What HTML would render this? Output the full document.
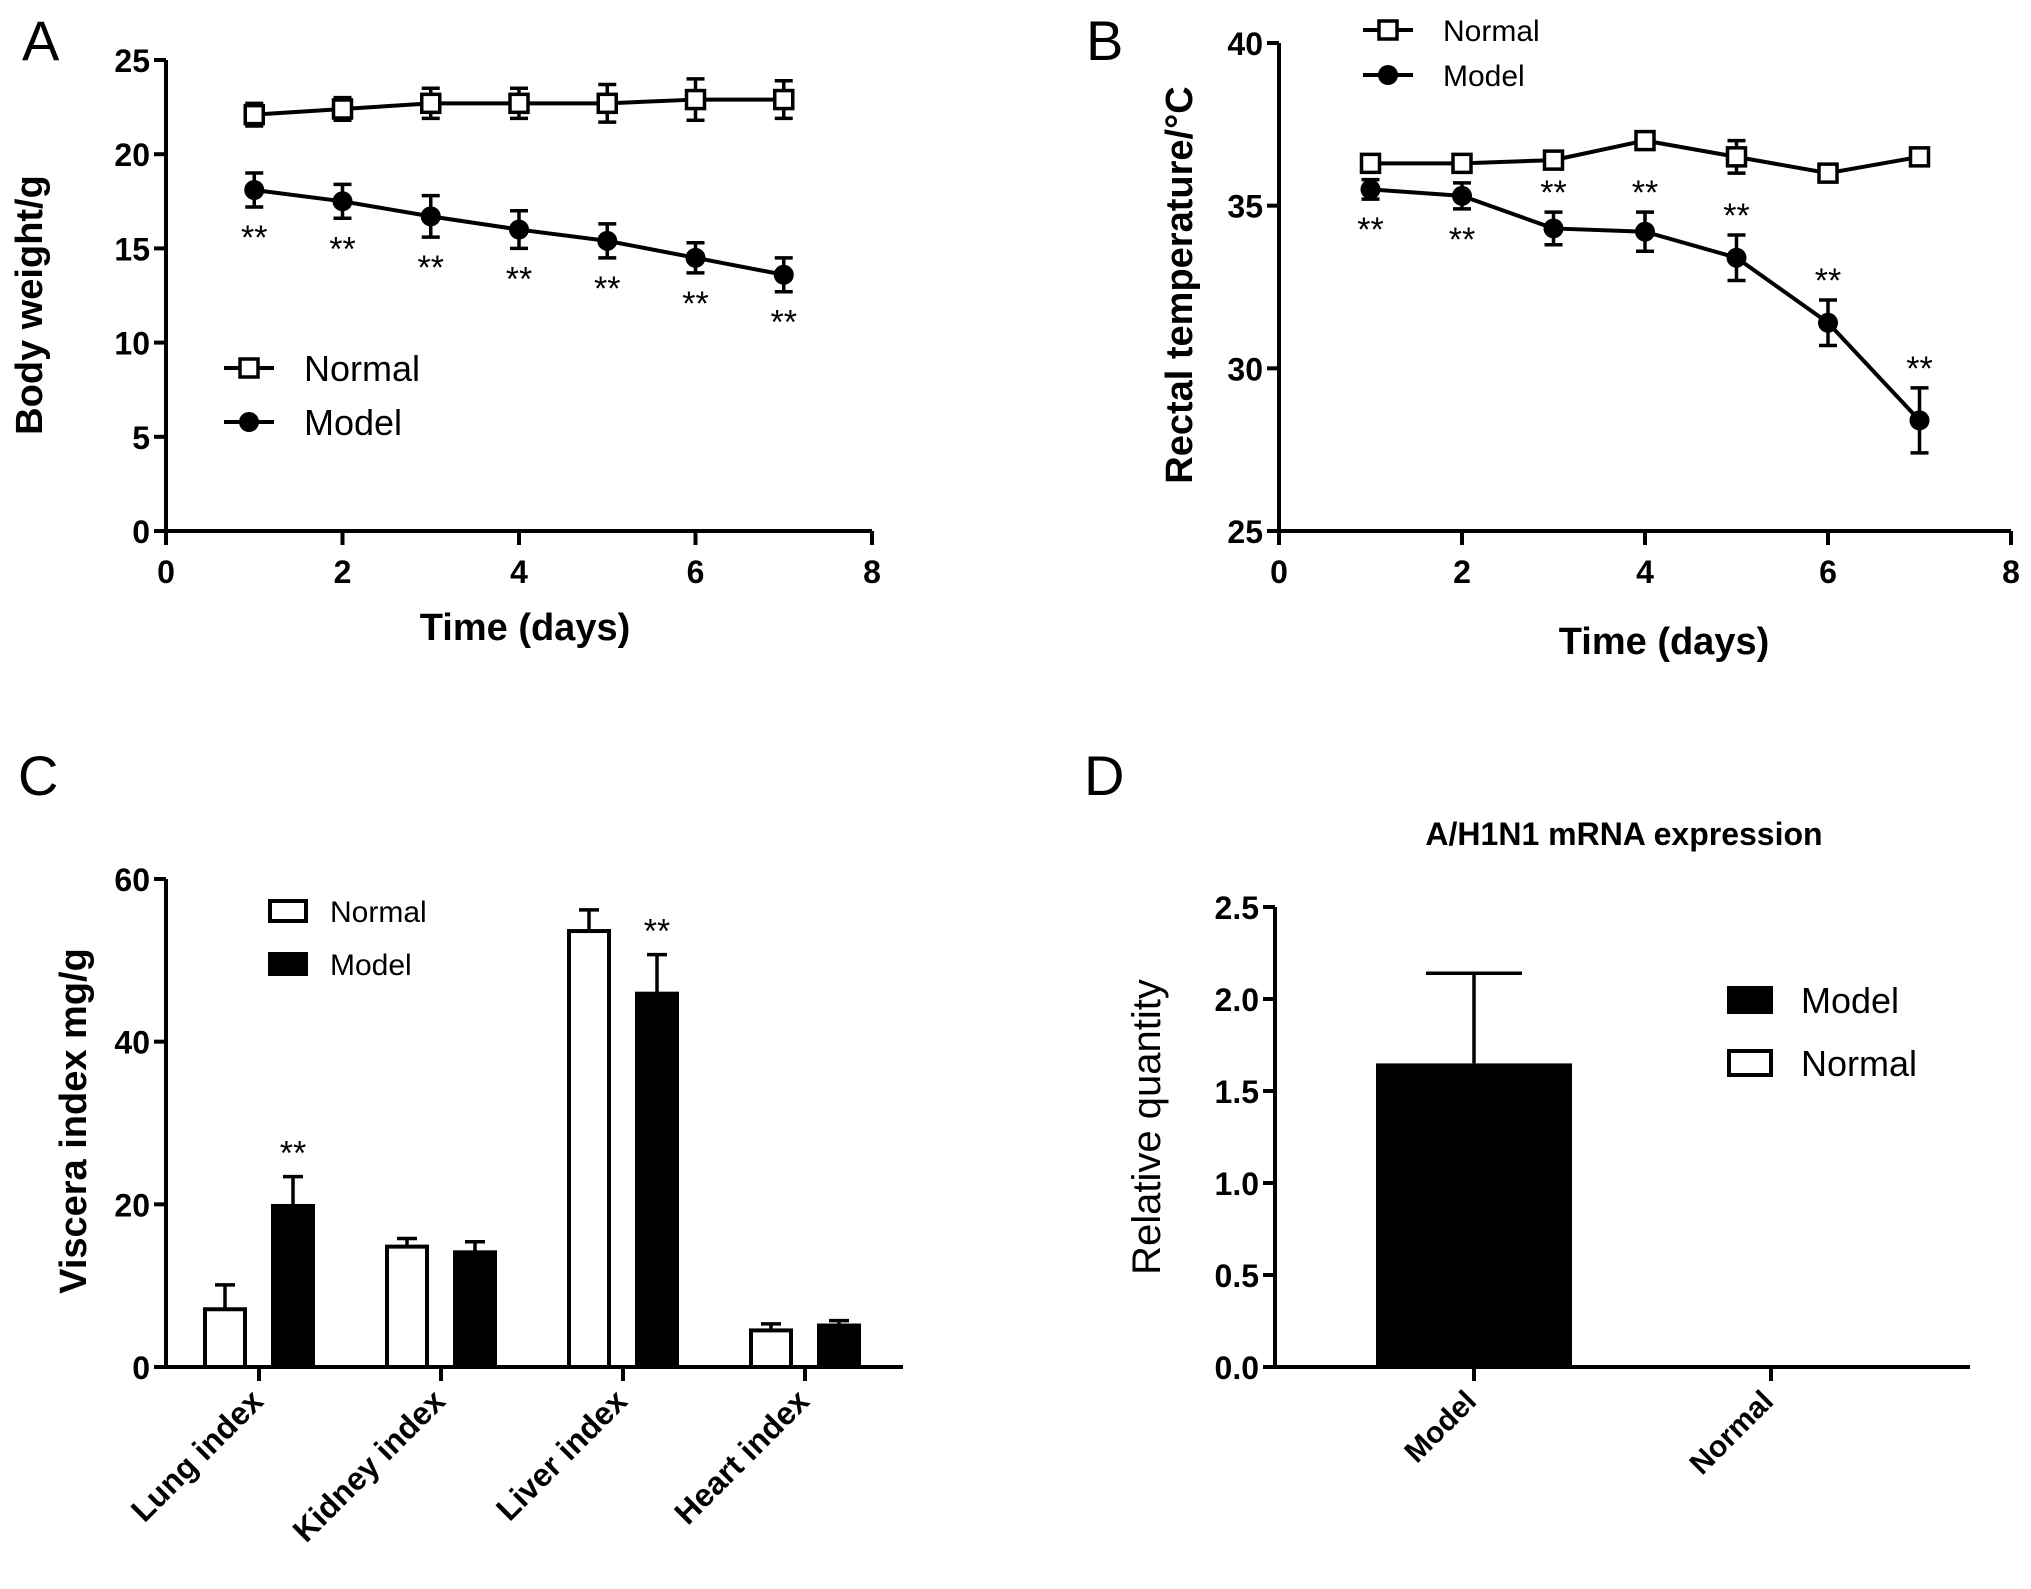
<!DOCTYPE html>
<html><head><meta charset="utf-8">
<style>
html,body{margin:0;padding:0;background:#fff;}
svg{display:block;font-family:"Liberation Sans",Arial,sans-serif;}
.tick{font-size:32px;font-weight:bold;}
.title{font-size:38px;font-weight:bold;}
.lab{font-size:56px;}
</style></head>
<body>
<svg id="fig" width="2031" height="1589" viewBox="0 0 2031 1589">
<text class="lab" x="22" y="60">A</text>
<text class="lab" x="1086" y="60">B</text>
<text class="lab" x="18" y="795">C</text>
<text class="lab" x="1084" y="795">D</text>
</svg>
<script>
// Panel A data
const daysA = [1,2,3,4,5,6,7];
const normalA = [22.1,22.4,22.7,22.7,22.7,22.9,22.9];
const normalAErr = [0.6,0.6,0.8,0.8,1.0,1.1,1.0];
const modelA = [18.1,17.5,16.7,16.0,15.4,14.5,13.6];
const modelAErr = [0.9,0.9,1.1,1.0,0.9,0.8,0.9];
const ticksAX = [0,2,4,6,8];
const ticksAY = [0,5,10,15,20,25];
// Panel B data
const daysB = [1,2,3,4,5,6,7];
const normalB = [36.3,36.3,36.4,37.0,36.5,36.0,36.5];
const normalBErr = [0.1,0.1,0.1,0.1,0.5,0.1,0.1];
const modelB = [35.5,35.3,34.3,34.2,33.4,31.4,28.4];
const modelBErr = [0.3,0.4,0.5,0.6,0.7,0.7,1.0];
const starsBAbove = [false,false,true,true,true,true,true];
const ticksBX = [0,2,4,6,8];
const ticksBY = [25,30,35,40];
// Panel C data
const catsC = ["Lung index","Kidney index","Liver index","Heart index"];
const normalC = [7.1,14.8,53.6,4.5];
const normalCErr = [3.0,1.0,2.6,0.8];
const modelC = [19.8,14.1,45.9,5.1];
const modelCErr = [3.6,1.3,4.8,0.6];
const starsC = [true,false,true,false];
const ticksCY = [0,20,40,60];
// Panel D data
const catsD = ["Model","Normal"];
const valsD = [1.65,0];
const errD = [0.49,0];
const ticksDY = ["0.0","0.5","1.0","1.5","2.0","2.5"];

const svg = document.getElementById('fig');
const NS = 'http://www.w3.org/2000/svg';
function mk(tag, attrs, txt){
  const e = document.createElementNS(NS, tag);
  for (const k in attrs) e.setAttribute(k, attrs[k]);
  if (txt !== undefined) e.textContent = txt;
  svg.appendChild(e);
  return e;
}
function line(x1,y1,x2,y2,w){return mk('line',{x1,y1,x2,y2,stroke:'#000','stroke-width':w||4});}

function axes(x0,x1,y0,y1,xs,ys,xTicks,yTicks,pre){
  let e = line(x0,y0,x1,y0,4);
  
  
  e = line(x0,y0+2,x0,y1,4);
  
  
  yTicks.forEach(v=>{
    const y = ys(parseFloat(v));
    line(x0-12,y,x0,y,4);
    const t = mk('text',{x:x0-16,y:y+12,'text-anchor':'end',class:'tick'},String(v));
    
    
  });
  if (xTicks) xTicks.forEach(v=>{
    const x = xs(v);
    line(x,y0,x,y0+14,4);
    const t = mk('text',{x:x,y:y0+52,'text-anchor':'middle',class:'tick'},String(v));
    
    
  });
}
function errBar(x,yc,yt,cap){line(x,yc,x,yt,3.5);line(x-cap,yt,x+cap,yt,3.5);}
function marker(type,x,y,pre){
  let e;
  if (type==='sq') e = mk('rect',{x:x-9,y:y-9,width:18,height:18,fill:'#fff',stroke:'#000','stroke-width':3.5});
  else e = mk('circle',{cx:x,cy:y,r:10,fill:'#000'});
  
  
}
function series(days,vals,errs,xs,ys,type,pre){
  const pts = days.map((d,i)=>xs(d)+','+ys(vals[i])).join(' ');
  const pl = mk('polyline',{points:pts,fill:'none',stroke:'#000','stroke-width':4});
  
  
  days.forEach((d,i)=>{
    const x=xs(d);
    errBar(x,ys(vals[i]),ys(vals[i]+errs[i]),9);
    errBar(x,ys(vals[i]),ys(vals[i]-errs[i]),9);
    marker(type,x,ys(vals[i]),pre);
  });
}
function stars(x,y,pre){
  const t = mk('text',{x:x,y:y,'text-anchor':'middle','font-size':'34px'},'**');
  
  
}
function legLine(x,y,type,label,fs,pre){
  line(x,y,x+50,y,4);
  marker(type,x+25,y,pre);
  const t = mk('text',{x:x+80,y:y+fs*0.36,'font-size':fs+'px'},label);
  
  
}
function title(x,y,txt,rot,name,size,weight){
  const a = {x:x,y:y,'text-anchor':'middle',class:'title'};
  if (rot) a.transform='rotate(-90 '+x+' '+y+')';
  let st='';
  if (size) st+='font-size:'+size+'px;';
  if (weight) st+='font-weight:'+weight+';';
  if (st) a.style=st;
  const t = mk('text',a,txt);
  
  
}

// ---------- Panel A ----------
{
  const x0=166,x1=872,y0=531,yTop=60;
  const xs=d=>x0+(x1-x0)*d/8, ys=v=>y0-(y0-yTop)*v/25;
  axes(x0,x1,y0,yTop,xs,ys,ticksAX,ticksAY,'panel-a');
  series(daysA,normalA,normalAErr,xs,ys,'sq','panel-a-normal');
  series(daysA,modelA,modelAErr,xs,ys,'ci','panel-a-model');
  daysA.forEach((d,i)=>stars(xs(d),ys(modelA[i]-modelAErr[i])+42,'panel-a'));
  legLine(224,368,'sq','Normal',36,'panel-a-normal');
  legLine(224,422,'ci','Model',36,'panel-a-model');
  title(525,640,'Time (days)',false,'panel-a-x-axis-title');
  title(42,305,'Body weight/g',true,'panel-a-y-axis-title');
}
// ---------- Panel B ----------
{
  const x0=1279,x1=2011,y0=531,yTop=43;
  const xs=d=>x0+(x1-x0)*d/8, ys=v=>y0-(y0-yTop)*(v-25)/15;
  axes(x0,x1,y0,yTop,xs,ys,ticksBX,ticksBY,'panel-b');
  series(daysB,normalB,normalBErr,xs,ys,'sq','panel-b-normal');
  series(daysB,modelB,modelBErr,xs,ys,'ci','panel-b-model');
  daysB.forEach((d,i)=>{
    if (starsBAbove[i]) stars(xs(d),ys(modelB[i]+modelBErr[i])-8,'panel-b');
    else stars(xs(d),ys(modelB[i]-modelBErr[i])+42,'panel-b');
  });
  legLine(1363,30,'sq','Normal',30,'panel-b-normal');
  legLine(1363,75,'ci','Model',30,'panel-b-model');
  title(1664,654,'Time (days)',false,'panel-b-x-axis-title');
  title(1192,285,'Rectal temperature/°C',true,'panel-b-y-axis-title');
}
// ---------- Panel C ----------
{
  const x0=166,x1=903,y0=1367,yTop=879;
  const ys=v=>y0-(y0-yTop)*v/60;
  const cx=i=>259+182*i;
  axes(x0,x1,y0,yTop,null,ys,null,ticksCY,'panel-c');
  catsC.forEach((c,i)=>{
    const x=cx(i);
    line(x,y0,x,y0+14,4);
    [[normalC,normalCErr,-34,'#fff','normal'],[modelC,modelCErr,34,'#000','model']].forEach(([v,er,off,fill,nm])=>{
      const bx=x+off;
      errBar(bx,ys(v[i]),ys(v[i]+er[i]),10);
      const r = mk('rect',{x:bx-20,y:ys(v[i]),width:40,height:y0-ys(v[i]),fill:fill,stroke:'#000','stroke-width':4});
      
      
    });
    if (starsC[i]) stars(x+34,ys(modelC[i]+modelCErr[i])-12,'panel-c');
    const t = mk('text',{x:x+6,y:y0+36,'text-anchor':'end',class:'title',style:'font-size:32px',transform:'rotate(-45 '+(x+6)+' '+(y0+36)+')'},c);
    
    
  });
  [['#fff','Normal',911],['#000','Model',964]].forEach(([f,l,y])=>{
    const r = mk('rect',{x:270,y:y-10,width:36,height:20,fill:f,stroke:'#000','stroke-width':4});
    
    
    const t = mk('text',{x:330,y:y+11,'font-size':'30px'},l);
    
    
  });
  title(86,1121,'Viscera index mg/g',true,'panel-c-y-axis-title');
}
// ---------- Panel D ----------
{
  const x0=1275,x1=1970,y0=1367,yTop=907;
  const ys=v=>y0-(y0-yTop)*v/2.5;
  const cx=i=>1474+297*i;
  axes(x0,x1,y0,yTop,null,ys,null,ticksDY,'panel-d');
  catsD.forEach((c,i)=>{
    const x=cx(i);
    if (errD[i]>0) errBar(x,ys(valsD[i]),ys(valsD[i]+errD[i]),48);
    if (valsD[i]>0){
      const r = mk('rect',{x:x-98,y:ys(valsD[i]),width:196,height:y0-ys(valsD[i]),fill:'#000'});
      
      
    }
    line(x,y0,x,y0+14,4);
    const t = mk('text',{x:x+4,y:y0+36,'text-anchor':'end',class:'title',style:'font-size:30px',transform:'rotate(-45 '+(x+4)+' '+(y0+36)+')'},c);
    
    
  });
  [['#000','Model',1000],['#fff','Normal',1063]].forEach(([f,l,y])=>{
    const r = mk('rect',{x:1729,y:y-12,width:42,height:24,fill:f,stroke:'#000','stroke-width':4});
    
    
    const t = mk('text',{x:1801,y:y+13,'font-size':'36px'},l);
    
    
  });
  title(1624,845,'A/H1N1 mRNA expression',false,'panel-d-title',32);
  title(1160,1127,'Relative quantity',true,'panel-d-y-axis-title',40,'normal');
}
</script>
</body></html>
